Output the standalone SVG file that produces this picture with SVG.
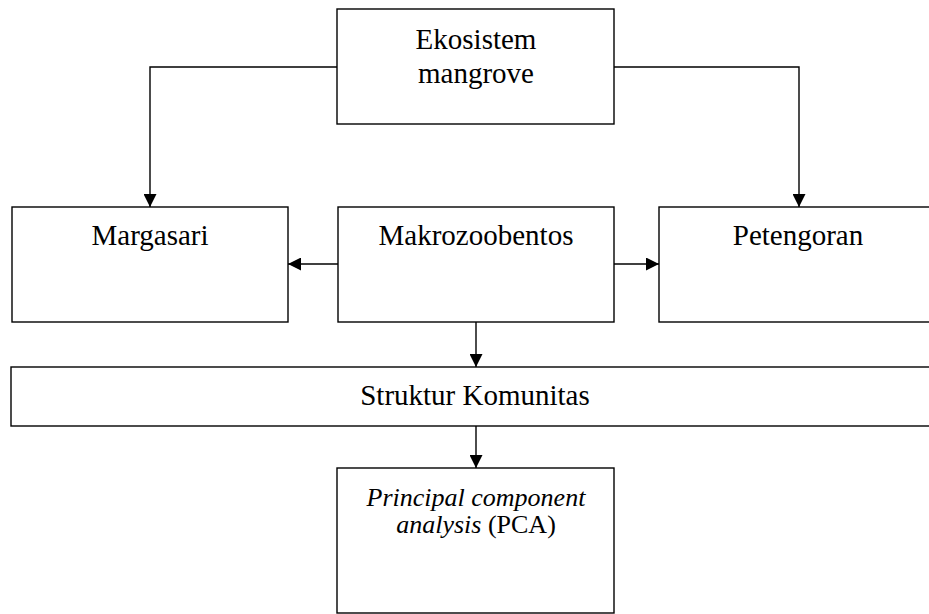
<svg xmlns="http://www.w3.org/2000/svg" width="929" height="614" viewBox="0 0 929 614">
<style>
.box{fill:#fff;stroke:#000;stroke-width:1.4}
.t{font-family:"Liberation Serif","Times New Roman",serif;font-size:29px;fill:#000;text-anchor:middle}
.p{font-family:"Liberation Serif","Times New Roman",serif;font-size:26px;fill:#000;text-anchor:middle}
.c{fill:none;stroke:#000;stroke-width:1.4}
</style>
<defs>
<marker id="ah" viewBox="0 0 10 10" refX="10" refY="5" markerWidth="16" markerHeight="13" markerUnits="userSpaceOnUse" orient="auto">
<path d="M0,0 L10,5 L0,10 z" fill="#000"/>
</marker>
</defs>
<g id="connectors">
<path class="c" d="M337,67 H150 V207" marker-end="url(#ah)"/>
<path class="c" d="M614,67 H799 V207" marker-end="url(#ah)"/>
<path class="c" d="M338,264 H288" marker-end="url(#ah)"/>
<path class="c" d="M614,264 H659" marker-end="url(#ah)"/>
<path class="c" d="M476,322 V367" marker-end="url(#ah)"/>
<path class="c" d="M476,426 V468" marker-end="url(#ah)"/>
</g>
<g id="ekosistem">
<rect class="box" x="337" y="9" width="277" height="115"/>
<text class="t" x="476" y="49">Ekosistem</text>
<text class="t" x="476" y="83">mangrove</text>
</g>
<g id="margasari">
<rect class="box" x="12" y="207" width="276" height="115"/>
<text class="t" x="150" y="245">Margasari</text>
</g>
<g id="makrozoobentos">
<rect class="box" x="338" y="207" width="276" height="115"/>
<text class="t" x="476" y="245">Makrozoobentos</text>
</g>
<g id="petengoran">
<rect class="box" x="659" y="207" width="275" height="115"/>
<text class="t" x="798" y="245">Petengoran</text>
</g>
<g id="struktur">
<rect class="box" x="11" y="367" width="923" height="59"/>
<text class="t" x="475" y="405">Struktur Komunitas</text>
</g>
<g id="pca">
<rect class="box" x="337" y="468" width="277" height="145"/>
<text class="p" x="476" y="506"><tspan font-style="italic">Principal component</tspan></text>
<text class="p" x="476" y="533"><tspan font-style="italic">analysis</tspan> (PCA)</text>
</g>
</svg>
